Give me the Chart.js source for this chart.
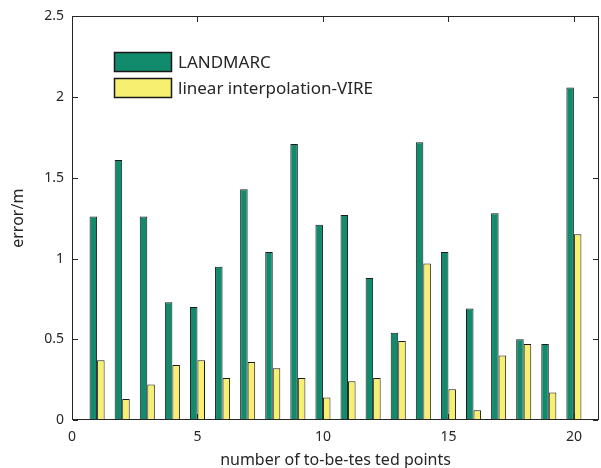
<!DOCTYPE html>
<html>
<head>
<meta charset="utf-8">
<script src="https://cdn.jsdelivr.net/npm/chart.js@4/dist/chart.umd.min.js"></script>
<style>
  html, body { margin: 0; padding: 0; background: #fff; }
  #wrap { width: 601px; height: 468px; }
</style>
</head>
<body>
<div id="wrap"><canvas id="chart"></canvas></div>
<script>
// test point index
const points = [1, 2, 3, 4, 5, 6, 7, 8, 9, 10, 11, 12, 13, 14, 15, 16, 17, 18, 19, 20];
// error in metres
const landmarc = [1.26, 1.61, 1.26, 0.73, 0.70, 0.95, 1.43, 1.04, 1.71, 1.21,
                  1.27, 0.88, 0.54, 1.72, 1.04, 0.69, 1.28, 0.50, 0.47, 2.06];
const vire = [0.37, 0.13, 0.22, 0.34, 0.37, 0.26, 0.36, 0.32, 0.26, 0.14,
              0.24, 0.26, 0.49, 0.97, 0.19, 0.06, 0.40, 0.47, 0.17, 1.15];
const xTicks = [0, 5, 10, 15, 20];
const yTicks = [0, 0.5, 1, 1.5, 2, 2.5];

const textColor = '#262626';
const axisColor = '#262626';
const fontFamily = '"Noto Sans", "Open Sans", sans-serif';

// box round the plot with inward ticks on all four sides, plus the legend inside
const boxPlugin = {
    id: 'box',
    afterDraw(chart) {
        const { ctx, chartArea: a, scales } = chart;
        const L = Math.round(a.left), R = Math.round(a.right) - 1;
        const T = Math.round(a.top), B = Math.round(a.bottom) - 1;
        const tl = 5;
        ctx.save();
        ctx.fillStyle = axisColor;
        ctx.fillRect(L, T, R - L + 1, 1);
        ctx.fillRect(L, B, R - L + 1, 1);
        ctx.fillRect(L, T, 1, B - T + 1);
        ctx.fillRect(R, T, 1, B - T + 1);
        xTicks.forEach(v => {
            const x = Math.round(scales.x.getPixelForValue(v));
            ctx.fillRect(x, B - tl, 1, tl);
            ctx.fillRect(x, T + 1, 1, tl);
        });
        yTicks.forEach(v => {
            const y = Math.round(scales.y.getPixelForValue(v));
            ctx.fillRect(L + 1, y, tl, 1);
            ctx.fillRect(R - tl, y, tl, 1);
        });

        // legend
        const lx = 114, ly = 52, bw = 58, bh = 20, gap = 26;
        ctx.font = '17px ' + fontFamily;
        ctx.textBaseline = 'middle';
        chart.data.datasets.forEach((ds, i) => {
            const y = ly + i * gap;
            ctx.fillStyle = ds.backgroundColor;
            ctx.fillRect(lx, y, bw, bh);
            ctx.strokeStyle = '#1a1a1a';
            ctx.lineWidth = 1.5;
            ctx.strokeRect(lx + 0.5, y + 0.5, bw - 1, bh - 1);
            ctx.fillStyle = textColor;
            ctx.fillText(ds.label, lx + bw + 6, y + bh / 2 + 1);
        });
        ctx.restore();
    }
};

new Chart(document.getElementById('chart').getContext('2d'), {
    type: 'bar',
    data: {
        datasets: [
            {
                label: 'LANDMARC',
                data: points.map((p, i) => ({ x: p, y: landmarc[i] })),
                backgroundColor: '#128a6c',
                borderColor: '#1a1a1a',
                borderWidth: 1,
                borderSkipped: false
            },
            {
                label: 'linear interpolation-VIRE',
                data: points.map((p, i) => ({ x: p, y: vire[i] })),
                backgroundColor: '#f6ef70',
                borderColor: '#1a1a1a',
                borderWidth: 1,
                borderSkipped: false
            }
        ]
    },
    options: {
        responsive: true,
        maintainAspectRatio: false,
        animation: false,
        categoryPercentage: 0.6,
        barPercentage: 1.0,
        layout: { padding: { top: 16, right: 2, left: 0, bottom: 0 } },
        scales: {
            x: {
                type: 'linear',
                min: 0,
                max: 21,
                offset: false,
                grid: { display: false, drawTicks: false, offset: false },
                border: { display: false },
                afterFit: scale => { scale.height = 48; },
                ticks: {
                    stepSize: 5,
                    includeBounds: false,
                    padding: 9,
                    color: textColor,
                    font: { family: fontFamily, size: 14 },
                    maxRotation: 0
                },
                title: {
                    display: true,
                    text: 'number of to-be-tes ted points',
                    color: textColor,
                    font: { family: fontFamily, size: 16, lineHeight: 1.0 },
                    padding: 0
                }
            },
            y: {
                min: 0,
                max: 2.5,
                grid: { display: false, drawTicks: false },
                border: { display: false },
                afterFit: scale => { scale.width = 72; },
                ticks: {
                    stepSize: 0.5,
                    padding: 8,
                    color: textColor,
                    font: { family: fontFamily, size: 14 },
                    callback: v => String(v)
                },
                title: {
                    display: true,
                    text: 'error/m',
                    color: textColor,
                    font: { family: fontFamily, size: 16, lineHeight: 1.0 },
                    padding: { top: 10, bottom: 0 }
                }
            }
        },
        plugins: {
            legend: { display: false },
            tooltip: { enabled: false }
        }
    },
    plugins: [boxPlugin]
});
</script>
</body>
</html>
